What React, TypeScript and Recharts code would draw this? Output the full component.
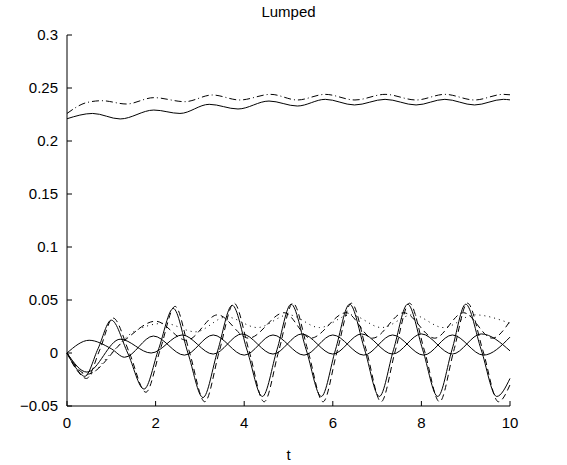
import { LineChart, Line, XAxis, YAxis } from 'recharts';

type Pt = [number, number];

// top pair (t, value)
const topSolid: Pt[] = [
    [0, 0.221], [0.58, 0.226], [1.2, 0.2208], [1.96, 0.2292], [2.55, 0.226], [3.21, 0.2346],
    [3.86, 0.2302], [4.56, 0.2377], [5.2, 0.233], [5.83, 0.2393], [6.49, 0.234], [7.18, 0.2393],
    [7.88, 0.234], [8.53, 0.2393], [9.2, 0.234], [9.85, 0.2393], [10, 0.2388],
];
const topDashDot: Pt[] = [
    [0, 0.226], [0.44, 0.2362], [0.79, 0.238], [1.34, 0.2349], [1.96, 0.2409], [2.66, 0.2371],
    [3.28, 0.2434], [3.9, 0.2387], [4.6, 0.244], [5.2, 0.2387], [5.83, 0.244], [6.5, 0.2387],
    [7.18, 0.244], [7.88, 0.2387], [8.53, 0.244], [9.2, 0.2387], [9.85, 0.244], [10, 0.2436],
];

// bottom group
const aSolid: Pt[] = [
    [0, 0], [0.2, -0.014], [0.4, -0.022], [0.7, 0.004], [1.0, 0.031], [1.37, 0], [1.74, -0.034],
    [2.07, 0.004], [2.4, 0.042], [2.73, 0], [3.07, -0.042], [3.4, 0.002], [3.73, 0.045], [4.07, 0.002],
    [4.41, -0.041], [4.74, 0.003], [5.06, 0.046], [5.4, 0.003], [5.74, -0.041], [6.06, 0.003],
    [6.38, 0.046], [6.72, 0.003], [7.05, -0.041], [7.37, 0.003], [7.69, 0.046], [8.03, 0.003],
    [8.37, -0.041], [8.69, 0.003], [9.0, 0.046], [9.35, 0.003], [9.7, -0.041], [10, -0.024],
];
const aDash: Pt[] = [
    [0, 0], [0.22, -0.016], [0.44, -0.024], [0.74, 0.003], [1.04, 0.033], [1.41, 0], [1.78, -0.037],
    [2.11, 0.004], [2.44, 0.044], [2.77, 0], [3.11, -0.046], [3.44, 0.002], [3.77, 0.047], [4.11, 0.002],
    [4.45, -0.046], [4.78, 0.002], [5.1, 0.047], [5.44, 0.002], [5.78, -0.046], [6.1, 0.002],
    [6.42, 0.047], [6.76, 0.002], [7.09, -0.046], [7.41, 0.002], [7.73, 0.047], [8.07, 0.002],
    [8.41, -0.046], [8.73, 0.002], [9.04, 0.047], [9.39, 0.002], [9.74, -0.046], [10, -0.03],
];
const bSolid: Pt[] = [
    [0, 0], [0.5, 0.012], [1.0, 0.004], [1.3, -0.004], [1.95, 0.016], [2.65, -0.002], [3.3, 0.017],
    [4.0, -0.002], [4.65, 0.017], [5.35, -0.002], [6.0, 0.017], [6.7, -0.002], [7.35, 0.017],
    [8.05, -0.002], [8.7, 0.017], [9.4, -0.002], [10, 0.015],
];
const cSolid: Pt[] = [
    [0, 0], [0.45, -0.018], [1.2, 0.013], [1.9, 0.0], [2.6, 0.017], [3.3, -0.001], [3.95, 0.018],
    [4.65, -0.001], [5.3, 0.018], [6.0, -0.001], [6.65, 0.018], [7.35, -0.001], [8.0, 0.018],
    [8.7, -0.001], [9.35, 0.018], [10, 0.002],
];
const dDash: Pt[] = [
    [0, 0], [0.45, -0.02], [1.3, 0.012], [2.0, 0.03], [2.7, 0.012], [3.4, 0.036], [4.1, 0.014],
    [4.9, 0.038], [5.5, 0.014], [6.3, 0.038], [6.9, 0.014], [7.6, 0.038], [8.3, 0.014], [8.95, 0.038],
    [9.6, 0.014], [10, 0.03],
];
const eDot: Pt[] = [
    [0, 0], [0.45, -0.021], [1.0, 0.0], [1.5, 0.02], [2.2, 0.028], [2.9, 0.02], [3.6, 0.034],
    [4.3, 0.024], [5.0, 0.036], [5.7, 0.024], [6.4, 0.036], [7.1, 0.024], [7.8, 0.036], [8.5, 0.024],
    [9.2, 0.036], [10, 0.028],
];

const xTicks = [0, 2, 4, 6, 8, 10];
const yTicks = [-0.05, 0, 0.05, 0.1, 0.15, 0.2, 0.25, 0.3];

const toRows = (pts: Pt[]) => pts.map(([t, v]) => ({ t, v }));

const series = [
    { name: 'topSolid', pts: topSolid, dash: undefined },
    { name: 'topDashDot', pts: topDashDot, dash: '7 3 1 3' },
    { name: 'aSolid', pts: aSolid, dash: undefined },
    { name: 'aDash', pts: aDash, dash: '6 4' },
    { name: 'bSolid', pts: bSolid, dash: undefined },
    { name: 'cSolid', pts: cSolid, dash: undefined },
    { name: 'dDash', pts: dDash, dash: '6 4' },
    { name: 'eDot', pts: eDot, dash: '1 4' },
];

const font = { fontFamily: '"Liberation Sans", Arial, sans-serif', fontSize: 15, fill: '#000' };

const fmtY = (v: number) => {
    if (v === 0) return '0';
    const s = String(Math.abs(v));
    return v < 0 ? `\u2212${s}` : s;
};

export default function App() {
    return (
        <div style={{ position: 'absolute', left: 0, top: 0, width: 567, height: 465, background: '#fff' }}>
            <div style={{
                position: 'absolute', left: 67, width: 443, top: 3, textAlign: 'center',
                fontFamily: font.fontFamily, fontSize: 15, color: '#000',
            }}>
                Lumped
            </div>
            <LineChart width={567} height={465} margin={{ top: 35, right: 57, bottom: 0, left: 0 }}>
                <XAxis
                    dataKey="t"
                    type="number"
                    domain={[0, 10]}
                    ticks={xTicks}
                    allowDuplicatedCategory={false}
                    height={59}
                    stroke="#000"
                    tickSize={-5}
                    tickMargin={16}
                    tick={font}
                    label={{ value: 't', position: 'insideBottom', offset: 5, style: font }}
                />
                <XAxis xAxisId="top" orientation="top" type="number" domain={[0, 10]} ticks={xTicks}
                    height={0} stroke="#000" tickSize={-5} tick={false} />
                <YAxis
                    type="number"
                    domain={[-0.05, 0.3]}
                    ticks={yTicks}
                    width={67}
                    stroke="#000"
                    tickSize={-5}
                    tickMargin={14}
                    tick={font}
                    tickFormatter={fmtY}
                />
                <YAxis yAxisId="right" orientation="right" type="number" domain={[-0.05, 0.3]} ticks={yTicks}
                    width={0} stroke="#000" tickSize={-5} tick={false} />
                {series.map((s) => (
                    <Line
                        key={s.name}
                        data={toRows(s.pts)}
                        dataKey="v"
                        type="monotone"
                        stroke="#000"
                        strokeWidth={1}
                        strokeDasharray={s.dash}
                        dot={false}
                        activeDot={false}
                        isAnimationActive={false}
                    />
                ))}
            </LineChart>
        </div>
    );
}
